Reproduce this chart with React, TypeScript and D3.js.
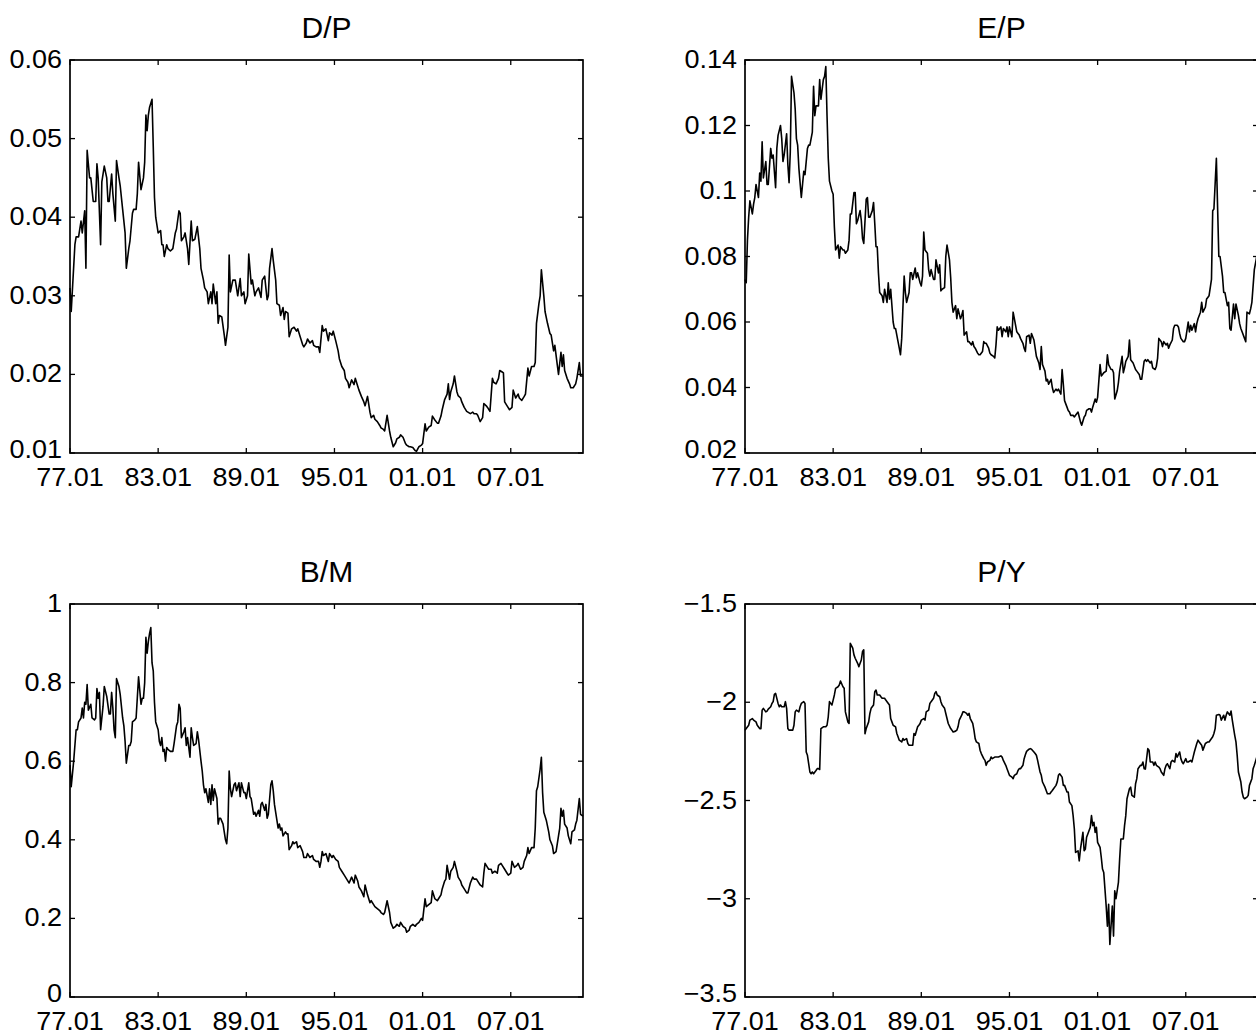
import React from 'react';
import * as d3 from 'd3';

// Monthly observations, 1977.01 .. 2011.12 (month index 0 .. 419)
const lastMonth = 419;
const xTickMonths = [0, 72, 144, 216, 288, 360];
const xTickLabels = ['77.01', '83.01', '89.01', '95.01', '01.01', '07.01'];

const dpSeries: [number, number][] = [
  [0,0.031],[1,0.028],[4,0.0365],[5,0.0375],[7,0.0375],[9,0.0395],[10,0.038],[12,0.0408],[13,0.0335],[14,0.0485],
  [16,0.045],[17,0.045],[19,0.042],[21,0.042],[22,0.0468],[23,0.045],[25,0.0365],[26,0.0445],[28,0.0465],[30,0.045],
  [31,0.042],[32,0.042],[34,0.0455],[35,0.043],[37,0.0395],[38,0.0472],[40,0.045],[41,0.044],[43,0.041],[45,0.038],
  [46,0.0335],[48,0.036],[49,0.037],[51,0.0405],[52,0.041],[54,0.041],[55,0.043],[56,0.047],[58,0.0435],[60,0.045],
  [61,0.047],[62,0.053],[63,0.051],[64,0.053],[65,0.054],[67,0.055],[68,0.049],[69,0.0425],[70,0.04],[72,0.038],
  [74,0.0383],[75,0.0365],[76,0.0365],[77,0.035],[79,0.0365],[80,0.036],[82,0.0357],[84,0.036],[86,0.038],[87,0.0385],
  [89,0.0408],[90,0.0405],[91,0.037],[93,0.0375],[94,0.038],[96,0.036],[97,0.034],[99,0.0395],[100,0.037],[102,0.0372],
  [104,0.0388],[106,0.036],[107,0.0335],[109,0.032],[110,0.031],[112,0.0305],[113,0.029],[115,0.0305],[116,0.029],[117,0.0315],
  [119,0.029],[120,0.0305],[121,0.0265],[122,0.0275],[124,0.0273],[126,0.025],[127,0.0237],[129,0.026],[130,0.0352],[131,0.0305],
  [133,0.032],[135,0.032],[137,0.03],[139,0.0322],[140,0.03],[142,0.0305],[143,0.029],[145,0.03],[146,0.0353],[148,0.0315],
  [149,0.032],[151,0.03],[152,0.0305],[154,0.031],[156,0.0298],[157,0.032],[159,0.0325],[161,0.0295],[162,0.03],[163,0.0335],
  [165,0.036],[166,0.0345],[168,0.032],[169,0.029],[171,0.0288],[172,0.0275],[174,0.0285],[175,0.027],[176,0.028],[178,0.0278],
  [179,0.0248],[181,0.0258],[183,0.026],[185,0.0255],[186,0.0258],[188,0.0248],[190,0.0238],[191,0.0235],[193,0.024],[194,0.0245],
  [196,0.024],[198,0.0243],[199,0.0237],[201,0.0235],[203,0.0235],[204,0.0228],[206,0.0262],[207,0.0255],[209,0.0258],[211,0.0243],
  [212,0.0253],[214,0.025],[215,0.0255],[217,0.0243],[219,0.023],[220,0.022],[222,0.021],[224,0.0205],[225,0.0195],[227,0.019],
  [228,0.0183],[230,0.0193],[232,0.0187],[233,0.0195],[235,0.0185],[236,0.018],[238,0.0172],[240,0.0165],[241,0.016],[243,0.0172],
  [245,0.0152],[246,0.0145],[248,0.0148],[249,0.0143],[251,0.014],[253,0.0135],[254,0.0132],[256,0.013],[257,0.0128],[259,0.0148],
  [261,0.0128],[262,0.012],[264,0.0108],[266,0.0113],[267,0.0118],[269,0.012],[270,0.0123],[272,0.012],[274,0.0112],[275,0.011],
  [277,0.0108],[278,0.0108],[280,0.0107],[282,0.0103],[283,0.0102],[285,0.0108],[287,0.011],[288,0.0112],[290,0.0137],[291,0.0128],
  [293,0.0133],[295,0.0135],[296,0.0147],[298,0.0142],[300,0.0138],[301,0.0138],[303,0.0147],[304,0.0155],[306,0.0168],[308,0.0175],
  [309,0.0188],[310,0.0168],[311,0.0178],[313,0.0188],[314,0.0198],[316,0.0178],[317,0.0173],[319,0.017],[320,0.0165],[322,0.0158],
  [324,0.0153],[325,0.0152],[327,0.015],[329,0.0152],[330,0.015],[332,0.015],[333,0.0148],[335,0.014],[337,0.0145],[338,0.0163],
  [340,0.016],[341,0.0158],[343,0.0153],[345,0.0195],[346,0.019],[348,0.0188],[350,0.0195],[351,0.0205],[353,0.0203],[354,0.0202],
  [355,0.0165],[357,0.016],[359,0.0155],[361,0.0158],[362,0.018],[364,0.017],[366,0.0175],[367,0.017],[369,0.0167],[371,0.0172],
  [372,0.0175],[374,0.0208],[375,0.0198],[377,0.021],[379,0.021],[380,0.0215],[381,0.0265],[383,0.029],[384,0.03],[385,0.0333],
  [387,0.03],[388,0.028],[390,0.0265],[392,0.0252],[393,0.025],[395,0.023],[396,0.0237],[398,0.0212],[399,0.02],[401,0.0228],
  [402,0.021],[403,0.0225],[404,0.0205],[406,0.0195],[408,0.0188],[409,0.0183],[411,0.0183],[413,0.0188],[414,0.0195],[416,0.0215],
  [417,0.0198],[419,0.0198],
];

const epSeries: [number, number][] = [
  [0,0.073],[1,0.072],[2,0.085],[3,0.092],[4,0.097],[6,0.093],[7,0.096],[8,0.098],[9,0.102],[11,0.098],
  [12,0.1055],[13,0.103],[14,0.115],[15,0.104],[17,0.109],[18,0.102],[19,0.102],[21,0.113],[22,0.11],[23,0.111],
  [25,0.101],[26,0.113],[27,0.117],[29,0.12],[30,0.116],[31,0.109],[32,0.111],[34,0.1175],[35,0.108],[36,0.1025],
  [37,0.112],[38,0.135],[40,0.13],[41,0.125],[42,0.116],[43,0.114],[44,0.107],[46,0.098],[47,0.102],[48,0.106],
  [49,0.105],[51,0.113],[52,0.114],[53,0.114],[55,0.118],[56,0.132],[57,0.123],[58,0.126],[60,0.126],[61,0.134],
  [62,0.128],[64,0.134],[65,0.135],[66,0.138],[67,0.123],[68,0.11],[69,0.103],[71,0.1],[72,0.099],[73,0.089],
  [74,0.082],[76,0.0835],[77,0.0795],[78,0.083],[80,0.082],[81,0.082],[82,0.081],[84,0.082],[85,0.085],[86,0.093],
  [87,0.093],[89,0.0995],[90,0.0995],[91,0.09],[92,0.091],[94,0.094],[95,0.091],[96,0.0855],[97,0.084],[99,0.0975],
  [100,0.098],[101,0.092],[102,0.092],[104,0.094],[105,0.0965],[106,0.09],[107,0.083],[108,0.083],[109,0.075],[110,0.069],
  [112,0.068],[113,0.066],[114,0.07],[116,0.066],[117,0.072],[118,0.067],[119,0.07],[121,0.06],[122,0.058],[123,0.058],
  [125,0.054],[126,0.052],[127,0.05],[128,0.055],[130,0.074],[131,0.069],[132,0.066],[134,0.069],[135,0.075],[136,0.075],
  [137,0.073],[139,0.0765],[140,0.0735],[141,0.075],[143,0.072],[144,0.071],[145,0.074],[146,0.0875],[147,0.082],[149,0.081],
  [150,0.076],[151,0.074],[152,0.076],[154,0.073],[155,0.073],[156,0.079],[158,0.075],[159,0.0775],[160,0.0695],[161,0.07],
  [163,0.0705],[164,0.08],[165,0.0835],[167,0.079],[168,0.0735],[169,0.066],[170,0.063],[172,0.065],[173,0.061],[174,0.064],
  [176,0.061],[177,0.062],[178,0.0635],[179,0.056],[181,0.057],[182,0.054],[183,0.054],[185,0.053],[186,0.054],[187,0.0525],
  [188,0.052],[190,0.0505],[191,0.05],[192,0.05],[194,0.051],[195,0.054],[196,0.0535],[197,0.0535],[199,0.052],[200,0.0505],
  [201,0.05],[203,0.0495],[204,0.049],[205,0.053],[206,0.0585],[207,0.0575],[209,0.0585],[210,0.0555],[211,0.058],[213,0.057],
  [214,0.0585],[215,0.0555],[216,0.0585],[218,0.0555],[219,0.063],[220,0.061],[222,0.057],[223,0.0565],[224,0.056],[225,0.055],
  [227,0.0535],[228,0.052],[229,0.051],[230,0.0555],[232,0.056],[233,0.0535],[234,0.0565],[236,0.0545],[237,0.052],[238,0.0495],
  [240,0.0475],[241,0.0455],[242,0.0525],[243,0.047],[245,0.045],[246,0.042],[247,0.0425],[248,0.041],[250,0.0425],[251,0.04],
  [252,0.0385],[254,0.0395],[255,0.039],[256,0.0395],[258,0.038],[259,0.0455],[260,0.041],[261,0.036],[263,0.034],[264,0.033],
  [265,0.0325],[266,0.0315],[268,0.0315],[269,0.031],[270,0.0315],[272,0.0325],[273,0.031],[274,0.0295],[275,0.0285],[277,0.031],
  [278,0.0315],[279,0.033],[281,0.0335],[282,0.0335],[283,0.0325],[284,0.034],[286,0.0365],[287,0.0355],[288,0.037],[290,0.047],
  [291,0.0435],[292,0.044],[293,0.0445],[295,0.045],[296,0.05],[297,0.047],[299,0.0455],[300,0.0455],[301,0.0445],[302,0.0365],
  [304,0.039],[305,0.0415],[306,0.045],[308,0.0495],[309,0.0445],[310,0.046],[311,0.048],[313,0.0495],[314,0.0545],[315,0.0485],
  [317,0.0475],[318,0.0465],[319,0.0455],[320,0.045],[322,0.044],[323,0.0425],[324,0.0425],[326,0.048],[327,0.0485],[328,0.048],
  [329,0.0485],[331,0.0475],[332,0.048],[333,0.046],[335,0.0455],[336,0.0465],[337,0.049],[338,0.055],[340,0.054],[341,0.0525],
  [342,0.054],[344,0.053],[345,0.0535],[346,0.052],[347,0.053],[349,0.0545],[350,0.058],[351,0.059],[353,0.059],[354,0.0585],
  [355,0.0565],[356,0.055],[358,0.054],[359,0.054],[360,0.055],[362,0.06],[363,0.057],[364,0.059],[365,0.0575],[367,0.0595],
  [368,0.057],[369,0.0595],[370,0.061],[372,0.063],[373,0.066],[374,0.063],[376,0.0645],[377,0.067],[378,0.0675],[379,0.068],
  [381,0.073],[382,0.094],[383,0.0945],[385,0.11],[386,0.095],[387,0.08],[388,0.08],[390,0.074],[391,0.069],[392,0.069],
  [394,0.065],[395,0.066],[396,0.058],[397,0.0575],[399,0.0655],[400,0.061],[401,0.0655],[403,0.062],[404,0.0595],[405,0.058],
  [406,0.057],[408,0.055],[409,0.054],[410,0.063],[412,0.0625],[413,0.064],[414,0.066],[416,0.076],[418,0.08],[419,0.082],
];

const bmSeries: [number, number][] = [
  [0,0.59],[1,0.535],[3,0.6],[5,0.68],[6,0.68],[7,0.7],[9,0.71],[10,0.735],[11,0.71],[12,0.75],
  [13,0.745],[14,0.795],[15,0.73],[17,0.745],[18,0.71],[20,0.705],[21,0.71],[22,0.785],[23,0.76],[24,0.775],
  [25,0.68],[27,0.74],[28,0.79],[30,0.765],[32,0.72],[33,0.72],[34,0.775],[35,0.735],[36,0.68],[37,0.66],
  [38,0.81],[40,0.79],[41,0.77],[43,0.71],[44,0.69],[45,0.65],[46,0.595],[48,0.64],[49,0.64],[50,0.65],
  [51,0.7],[53,0.705],[54,0.71],[56,0.815],[57,0.78],[58,0.745],[59,0.76],[60,0.76],[61,0.8],[62,0.915],
  [63,0.875],[64,0.905],[65,0.925],[66,0.94],[67,0.85],[68,0.83],[69,0.75],[70,0.7],[72,0.68],[73,0.65],
  [74,0.64],[75,0.66],[76,0.625],[77,0.63],[78,0.6],[79,0.635],[80,0.63],[82,0.625],[84,0.625],[85,0.645],
  [87,0.69],[88,0.7],[89,0.745],[90,0.735],[91,0.66],[93,0.675],[94,0.685],[95,0.64],[96,0.66],[98,0.61],
  [99,0.685],[100,0.66],[101,0.64],[103,0.645],[104,0.675],[105,0.655],[107,0.6],[108,0.575],[109,0.54],[110,0.52],
  [111,0.53],[113,0.495],[114,0.53],[115,0.49],[116,0.54],[117,0.5],[118,0.53],[120,0.505],[121,0.44],[122,0.455],
  [123,0.455],[125,0.44],[127,0.4],[128,0.39],[129,0.43],[130,0.575],[131,0.53],[132,0.51],[134,0.54],[135,0.545],
  [136,0.525],[138,0.545],[139,0.51],[140,0.545],[142,0.52],[143,0.52],[144,0.505],[146,0.545],[147,0.51],[148,0.505],
  [150,0.465],[151,0.47],[152,0.46],[154,0.475],[155,0.46],[156,0.49],[157,0.495],[159,0.475],[160,0.49],[161,0.455],
  [162,0.465],[164,0.54],[165,0.55],[166,0.525],[167,0.49],[168,0.47],[170,0.43],[171,0.44],[172,0.425],[173,0.43],
  [174,0.41],[176,0.42],[177,0.415],[178,0.415],[179,0.375],[181,0.385],[182,0.395],[183,0.39],[185,0.395],[186,0.38],
  [188,0.385],[190,0.37],[191,0.355],[193,0.355],[194,0.365],[196,0.355],[198,0.36],[199,0.35],[201,0.345],[203,0.345],
  [204,0.33],[205,0.345],[206,0.37],[207,0.36],[209,0.365],[211,0.345],[212,0.365],[214,0.355],[215,0.36],[217,0.35],
  [219,0.345],[220,0.33],[222,0.32],[224,0.31],[225,0.305],[227,0.295],[228,0.29],[230,0.305],[232,0.29],[233,0.31],
  [235,0.295],[236,0.28],[238,0.27],[240,0.255],[241,0.285],[243,0.26],[245,0.24],[246,0.245],[248,0.235],[249,0.23],
  [251,0.225],[253,0.22],[254,0.215],[256,0.21],[257,0.215],[259,0.245],[261,0.215],[262,0.19],[264,0.175],[266,0.18],
  [267,0.185],[269,0.18],[270,0.19],[272,0.18],[274,0.175],[275,0.165],[277,0.17],[278,0.18],[280,0.185],[282,0.18],
  [283,0.185],[285,0.19],[287,0.2],[288,0.195],[290,0.25],[291,0.23],[293,0.235],[295,0.24],[296,0.27],[298,0.25],
  [300,0.245],[301,0.25],[303,0.26],[304,0.275],[306,0.295],[307,0.3],[308,0.335],[310,0.3],[311,0.32],[313,0.33],
  [314,0.345],[316,0.32],[317,0.305],[319,0.295],[320,0.285],[322,0.275],[324,0.265],[325,0.265],[327,0.29],[329,0.305],
  [330,0.3],[332,0.3],[333,0.295],[335,0.285],[337,0.28],[338,0.315],[339,0.34],[341,0.33],[342,0.325],[344,0.325],
  [345,0.315],[347,0.32],[349,0.315],[350,0.335],[352,0.34],[353,0.335],[355,0.325],[357,0.315],[358,0.31],[360,0.315],
  [361,0.345],[363,0.33],[365,0.335],[366,0.34],[368,0.325],[370,0.33],[371,0.345],[373,0.36],[374,0.38],[375,0.365],
  [377,0.38],[379,0.38],[380,0.43],[381,0.525],[382,0.535],[384,0.58],[385,0.61],[386,0.52],[387,0.47],[389,0.45],
  [391,0.42],[392,0.4],[394,0.385],[395,0.365],[397,0.37],[399,0.41],[400,0.43],[401,0.48],[402,0.46],[403,0.475],
  [404,0.44],[406,0.43],[407,0.41],[409,0.39],[410,0.42],[412,0.425],[413,0.44],[414,0.45],[416,0.505],[417,0.465],
  [419,0.46],
];

const pySeries: [number, number][] = [
  [0,-2.142],[1,-2.134],[3,-2.117],[4,-2.091],[6,-2.083],[7,-2.091],[9,-2.1],[10,-2.117],[12,-2.134],[13,-2.134],
  [14,-2.04],[15,-2.031],[17,-2.049],[18,-2.045],[19,-2.035],[21,-2.023],[22,-2.006],[23,-1.997],[24,-1.96],[25,-1.955],
  [27,-2.006],[28,-2.023],[29,-2.014],[30,-2.023],[32,-2.023],[33,-1.997],[34,-2.031],[35,-2.134],[36,-2.142],[38,-2.142],
  [39,-2.142],[40,-2.117],[41,-2.049],[42,-2.04],[44,-2.049],[45,-2.023],[46,-2.006],[48,-1.997],[49,-2.006],[50,-2.253],
  [51,-2.27],[53,-2.355],[54,-2.364],[55,-2.355],[56,-2.364],[58,-2.347],[59,-2.338],[60,-2.338],[61,-2.342],[62,-2.134],
  [64,-2.125],[65,-2.125],[66,-2.125],[67,-2.117],[68,-2.074],[69,-1.997],[71,-2.014],[72,-1.989],[73,-1.963],[74,-1.929],
  [76,-1.921],[77,-1.912],[78,-1.892],[80,-1.921],[81,-1.929],[82,-2.049],[83,-2.074],[84,-2.1],[85,-2.108],[86,-1.7],
  [88,-1.725],[89,-1.759],[90,-1.776],[92,-1.802],[93,-1.819],[94,-1.802],[95,-1.785],[96,-1.742],[97,-1.733],[98,-2.16],
  [99,-2.134],[101,-2.1],[102,-2.057],[103,-2.031],[105,-2.014],[106,-1.946],[107,-1.938],[108,-1.963],[110,-1.963],[111,-1.972],
  [112,-1.98],[114,-1.98],[115,-1.989],[116,-1.997],[118,-2.014],[119,-2.083],[120,-2.1],[121,-2.117],[123,-2.125],[124,-2.159],
  [125,-2.176],[126,-2.193],[128,-2.202],[129,-2.185],[130,-2.193],[132,-2.185],[133,-2.21],[134,-2.219],[136,-2.219],[137,-2.219],
  [138,-2.159],[139,-2.168],[141,-2.125],[142,-2.117],[143,-2.108],[144,-2.091],[146,-2.083],[147,-2.091],[148,-2.049],[150,-2.04],
  [151,-2.006],[152,-1.997],[154,-1.98],[155,-1.955],[156,-1.946],[157,-1.963],[159,-1.972],[160,-1.997],[161,-2.014],[163,-2.031],
  [164,-2.057],[165,-2.083],[166,-2.108],[168,-2.134],[169,-2.142],[170,-2.151],[172,-2.147],[173,-2.142],[174,-2.125],[175,-2.091],
  [177,-2.066],[178,-2.049],[179,-2.049],[181,-2.057],[182,-2.066],[183,-2.057],[184,-2.083],[186,-2.108],[187,-2.142],[188,-2.185],
  [189,-2.202],[191,-2.21],[192,-2.244],[193,-2.261],[195,-2.287],[196,-2.296],[197,-2.321],[198,-2.304],[200,-2.296],[201,-2.279],
  [202,-2.287],[204,-2.279],[205,-2.279],[206,-2.279],[207,-2.279],[209,-2.273],[210,-2.279],[211,-2.296],[213,-2.321],[214,-2.338],
  [215,-2.355],[216,-2.372],[218,-2.381],[219,-2.389],[220,-2.372],[222,-2.364],[223,-2.347],[224,-2.338],[225,-2.338],[227,-2.321],
  [228,-2.287],[229,-2.267],[230,-2.25],[232,-2.239],[233,-2.236],[234,-2.239],[236,-2.253],[237,-2.261],[238,-2.27],[239,-2.296],
  [241,-2.355],[242,-2.372],[243,-2.406],[245,-2.432],[246,-2.449],[247,-2.466],[249,-2.466],[250,-2.457],[251,-2.449],[252,-2.44],
  [254,-2.423],[255,-2.406],[256,-2.372],[257,-2.364],[259,-2.381],[260,-2.423],[261,-2.423],[263,-2.457],[264,-2.457],[265,-2.508],
  [267,-2.526],[268,-2.577],[269,-2.645],[270,-2.764],[272,-2.756],[273,-2.807],[274,-2.747],[276,-2.662],[277,-2.756],[278,-2.747],
  [279,-2.687],[280,-2.67],[282,-2.636],[283,-2.577],[284,-2.628],[285,-2.611],[286,-2.662],[287,-2.636],[288,-2.713],[290,-2.739],
  [291,-2.79],[292,-2.849],[293,-2.866],[294,-2.951],[295,-3.037],[296,-3.14],[297,-3.028],[298,-3.233],[300,-3.037],[301,-3.19],
  [302,-2.96],[303,-3.0],[305,-2.917],[306,-2.798],[307,-2.696],[309,-2.696],[310,-2.628],[311,-2.577],[312,-2.491],[314,-2.44],
  [315,-2.432],[316,-2.474],[318,-2.483],[319,-2.415],[320,-2.389],[321,-2.338],[323,-2.321],[324,-2.321],[325,-2.304],[326,-2.338],
  [327,-2.34],[329,-2.236],[330,-2.244],[331,-2.304],[333,-2.304],[334,-2.321],[335,-2.304],[336,-2.321],[338,-2.33],[339,-2.338],
  [340,-2.355],[342,-2.372],[343,-2.338],[344,-2.321],[345,-2.313],[347,-2.338],[348,-2.304],[349,-2.296],[351,-2.304],[352,-2.261],
  [353,-2.279],[355,-2.253],[356,-2.287],[357,-2.304],[358,-2.313],[360,-2.287],[361,-2.304],[362,-2.304],[364,-2.296],[365,-2.304],
  [366,-2.279],[367,-2.253],[369,-2.21],[370,-2.193],[371,-2.202],[373,-2.219],[374,-2.244],[375,-2.227],[376,-2.21],[378,-2.202],
  [379,-2.202],[380,-2.193],[382,-2.176],[383,-2.159],[384,-2.134],[385,-2.066],[387,-2.062],[388,-2.066],[389,-2.091],[391,-2.066],
  [392,-2.091],[393,-2.066],[394,-2.049],[396,-2.066],[397,-2.045],[398,-2.091],[400,-2.168],[401,-2.202],[402,-2.27],[403,-2.355],
  [405,-2.406],[406,-2.457],[407,-2.483],[408,-2.491],[410,-2.483],[411,-2.474],[412,-2.423],[414,-2.389],[415,-2.338],[416,-2.321],
  [418,-2.28],[419,-2.25],
];

const dpTicks = [0.01, 0.02, 0.03, 0.04, 0.05, 0.06];
const dpTickLabels = ['0.01', '0.02', '0.03', '0.04', '0.05', '0.06'];
const epTicks = [0.02, 0.04, 0.06, 0.08, 0.1, 0.12, 0.14];
const epTickLabels = ['0.02', '0.04', '0.06', '0.08', '0.1', '0.12', '0.14'];
const bmTicks = [0, 0.2, 0.4, 0.6, 0.8, 1];
const bmTickLabels = ['0', '0.2', '0.4', '0.6', '0.8', '1'];
const pyTicks = [-3.5, -3, -2.5, -2, -1.5];
const pyTickLabels = ['\u22123.5', '\u22123', '\u22122.5', '\u22122', '\u22121.5'];

const titles = ['D/P', 'E/P', 'B/M', 'P/Y'];

const PW = 513;
const PH = 393;
const FONT = '"Liberation Sans", Arial, Helvetica, sans-serif';
const TICK = 5;
const TICK_FONT = 25;
const STRETCH = 1.08;

type PanelProps = {
  left: number;
  top: number;
  title: string;
  series: [number, number][];
  ticks: number[];
  tickLabels: string[];
};

function TickText({ x, y, anchor, children }: { x: number; y: number; anchor: string; children: string }) {
  return (
    <text
      transform={`translate(${x},${y}) scale(${STRETCH},1)`}
      textAnchor={anchor}
      fontSize={TICK_FONT}
      fontFamily={FONT}
      fill="#000"
    >
      {children}
    </text>
  );
}

function Panel({ left, top, title, series, ticks, tickLabels }: PanelProps) {
  const x = d3.scaleLinear().domain([0, lastMonth]).range([0, PW]);
  const y = d3
    .scaleLinear()
    .domain([ticks[0], ticks[ticks.length - 1]])
    .range([PH, 0]);
  const line = d3
    .line<[number, number]>()
    .x((d) => x(d[0]))
    .y((d) => y(d[1]));
  return (
    <g transform={`translate(${left},${top})`}>
      <text x={PW / 2} y={-22} textAnchor="middle" fontSize={30} fontFamily={FONT} fill="#000">
        {title}
      </text>
      <path d={line(series) || ''} fill="none" stroke="#000" strokeWidth={1.6} strokeLinejoin="round" />
      <rect x={0} y={0} width={PW} height={PH} fill="none" stroke="#000" strokeWidth={1.7} />
      {xTickMonths.map((m, i) => (
        <g key={'x' + i}>
          <line x1={x(m)} x2={x(m)} y1={PH} y2={PH - TICK} stroke="#000" strokeWidth={1.3} />
          <line x1={x(m)} x2={x(m)} y1={0} y2={TICK} stroke="#000" strokeWidth={1.3} />
          <TickText x={x(m)} y={PH + 33} anchor="middle">
            {xTickLabels[i]}
          </TickText>
        </g>
      ))}
      {ticks.map((t, i) => (
        <g key={'y' + i}>
          <line x1={0} x2={TICK} y1={y(t)} y2={y(t)} stroke="#000" strokeWidth={1.3} />
          <line x1={PW} x2={PW - TICK} y1={y(t)} y2={y(t)} stroke="#000" strokeWidth={1.3} />
          <TickText x={-8} y={y(t) + (i === 0 ? 4.5 : 8)} anchor="end">
            {tickLabels[i]}
          </TickText>
        </g>
      ))}
    </g>
  );
}

export default function App() {
  return (
    <svg
      width={1256}
      height={1036}
      style={{ position: 'absolute', left: 0, top: 0, background: '#fff' }}
    >
      <rect x={0} y={0} width={1256} height={1036} fill="#fff" />
      <Panel left={70} top={60} title={titles[0]} series={dpSeries} ticks={dpTicks} tickLabels={dpTickLabels} />
      <Panel left={745} top={60} title={titles[1]} series={epSeries} ticks={epTicks} tickLabels={epTickLabels} />
      <Panel left={70} top={604} title={titles[2]} series={bmSeries} ticks={bmTicks} tickLabels={bmTickLabels} />
      <Panel left={745} top={604} title={titles[3]} series={pySeries} ticks={pyTicks} tickLabels={pyTickLabels} />
    </svg>
  );
}
